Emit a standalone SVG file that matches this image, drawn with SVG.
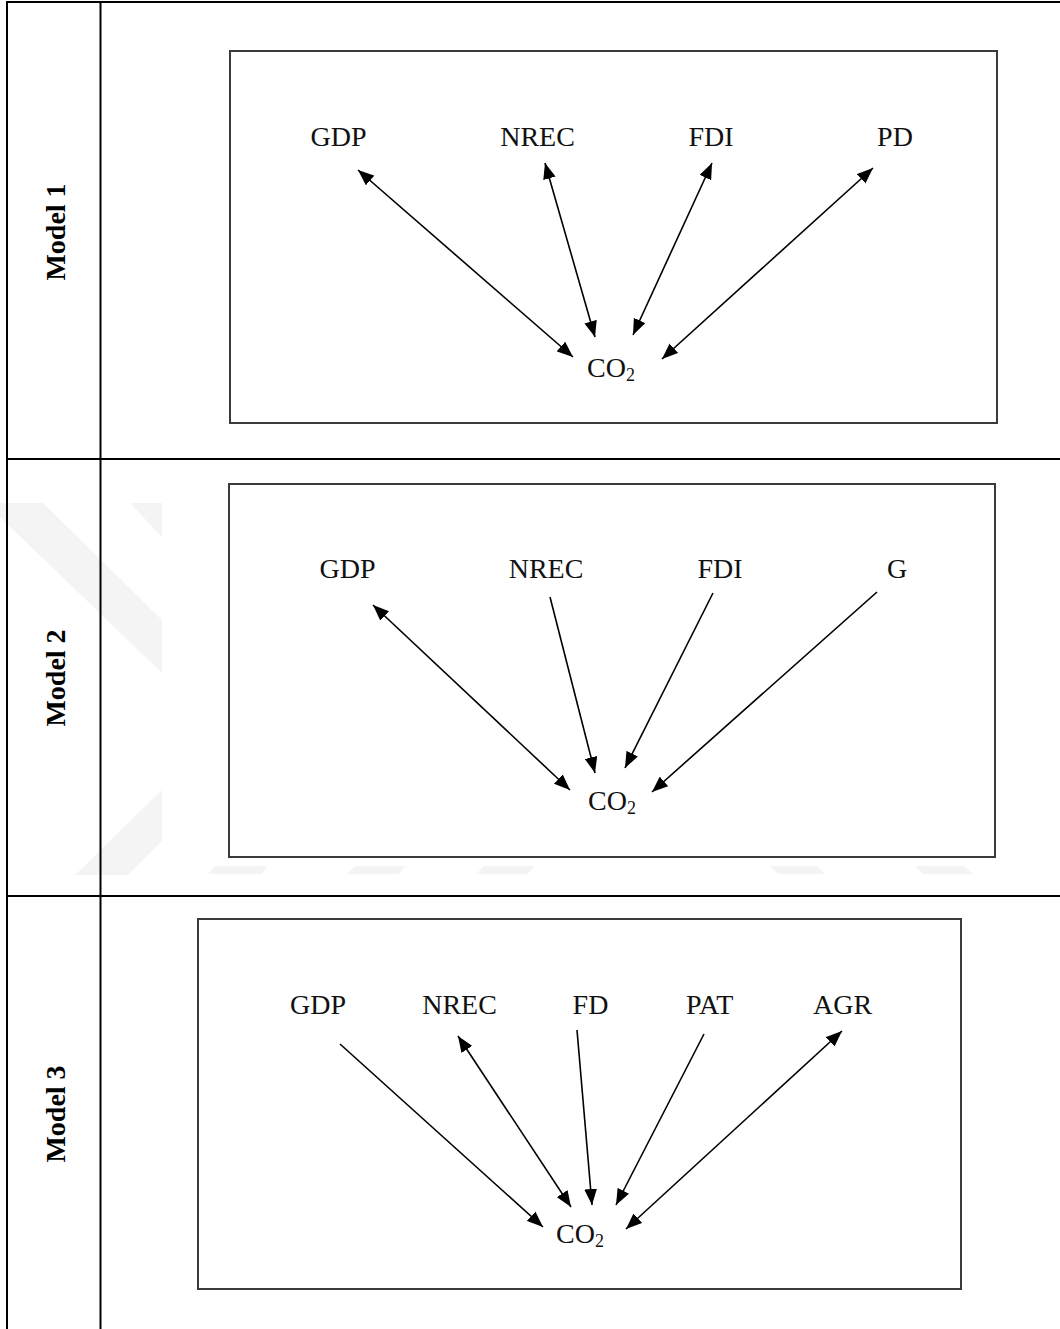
<svg xmlns="http://www.w3.org/2000/svg" width="1060" height="1329" viewBox="0 0 1060 1329">
  <defs>
    <marker id="head" markerUnits="userSpaceOnUse" markerWidth="16" markerHeight="13" viewBox="0 0 15 12" refX="15" refY="6" orient="auto-start-reverse">
      <path d="M0,0 L15,6 L0,12 z" fill="#000"/>
    </marker>
    <clipPath id="wmClip">
      <rect x="0" y="460" width="162" height="436"/>
    </clipPath>
  </defs>
  <style>
    .grid { stroke: #000; stroke-width: 2; fill: none; }
    .frame { stroke: #3a3a3a; stroke-width: 2; fill: none; }
    .lbl { font-family: "Liberation Serif", "Times New Roman", serif; font-size: 28px; fill: #111; text-anchor: middle; }
    .co2 { font-family: "Liberation Serif", "Times New Roman", serif; font-size: 28px; fill: #111; }
    .sub { font-size: 18px; }
    .model { font-family: "Liberation Serif", "Times New Roman", serif; font-size: 28px; font-weight: bold; fill: #000; text-anchor: middle; }
    .wm { fill: #f4f4f4; }
    .edge { stroke: #000; stroke-width: 1.6; fill: none; }
    .one { marker-end: url(#head); }
    .two { marker-start: url(#head); marker-end: url(#head); }
  </style>

  <rect x="0" y="0" width="1060" height="1329" fill="#fff"/>

  <!-- faint background mark -->
  <g id="backdrop-mark">
    <g clip-path="url(#wmClip)">
      <polygon class="wm" points="0,503 43,503 162,620 162,673 0,517"/>
      <polygon class="wm" points="130,503 162,503 162,537"/>
      <polygon class="wm" points="75,875 162,790 162,841 128,875"/>
    </g>
    <polygon class="wm" points="215,866 267,866 262,874 208,874"/>
    <polygon class="wm" points="355,866 405,866 399,874 347,874"/>
    <polygon class="wm" points="484,866 534,866 528,874 476,874"/>
    <polygon class="wm" points="770,866 817,866 825,874 778,874"/>
    <polygon class="wm" points="915,866 963,866 973,874 923,874"/>
  </g>

  <!-- table grid -->
  <g id="table">
    <line class="grid" x1="6" y1="2" x2="1060" y2="2"/>
    <line class="grid" x1="7" y1="1" x2="7" y2="1329"/>
    <line class="grid" x1="100.5" y1="1" x2="100.5" y2="1329"/>
    <line class="grid" x1="6" y1="459" x2="1060" y2="459"/>
    <line class="grid" x1="6" y1="896" x2="1060" y2="896"/>
  </g>

  <!-- row labels -->
  <g id="label-model1"><text class="model" transform="translate(65,232) rotate(-90)">Model 1</text></g>
  <g id="label-model2"><text class="model" transform="translate(65,678) rotate(-90)">Model 2</text></g>
  <g id="label-model3"><text class="model" transform="translate(65,1114) rotate(-90)">Model 3</text></g>

  <!-- model frames -->
  <g id="frame-model1"><rect class="frame" x="230" y="51" width="767" height="372"/></g>
  <g id="frame-model2"><rect class="frame" x="229" y="484" width="766" height="373"/></g>
  <g id="frame-model3"><rect class="frame" x="198" y="919" width="763" height="370"/></g>

  <!-- Model 1 nodes -->
  <g id="m1-gdp"><text class="lbl" x="338.5" y="146">GDP</text></g>
  <g id="m1-nrec"><text class="lbl" x="537.5" y="146">NREC</text></g>
  <g id="m1-fdi"><text class="lbl" x="711" y="146">FDI</text></g>
  <g id="m1-pd"><text class="lbl" x="895" y="146">PD</text></g>
  <g id="m1-co2"><text class="co2" x="587" y="377">CO<tspan class="sub" dy="4">2</tspan></text></g>

  <!-- Model 2 nodes -->
  <g id="m2-gdp"><text class="lbl" x="347.5" y="578">GDP</text></g>
  <g id="m2-nrec"><text class="lbl" x="546" y="578">NREC</text></g>
  <g id="m2-fdi"><text class="lbl" x="720" y="578">FDI</text></g>
  <g id="m2-g"><text class="lbl" x="897" y="578">G</text></g>
  <g id="m2-co2"><text class="co2" x="588" y="810">CO<tspan class="sub" dy="4">2</tspan></text></g>

  <!-- Model 3 nodes -->
  <g id="m3-gdp"><text class="lbl" x="318" y="1014">GDP</text></g>
  <g id="m3-nrec"><text class="lbl" x="459.5" y="1014">NREC</text></g>
  <g id="m3-fd"><text class="lbl" x="590.5" y="1014">FD</text></g>
  <g id="m3-pat"><text class="lbl" x="709.7" y="1014">PAT</text></g>
  <g id="m3-agr"><text class="lbl" x="842.5" y="1014">AGR</text></g>
  <g id="m3-co2"><text class="co2" x="556" y="1243">CO<tspan class="sub" dy="4">2</tspan></text></g>

  <!-- connectors -->
  <g id="connectors">
    <!-- Model 1 -->
    <line class="edge two" x1="358" y1="170" x2="573" y2="357"/>
    <line class="edge two" x1="545" y1="163" x2="595" y2="337"/>
    <line class="edge two" x1="712" y1="163" x2="633" y2="335"/>
    <line class="edge two" x1="873" y1="168" x2="662" y2="359"/>
    <!-- Model 2 -->
    <line class="edge two" x1="373" y1="605" x2="570" y2="790"/>
    <line class="edge one" x1="550" y1="597" x2="595" y2="773"/>
    <line class="edge one" x1="713" y1="593" x2="625" y2="768"/>
    <line class="edge one" x1="877" y1="592" x2="652" y2="792"/>
    <!-- Model 3 -->
    <line class="edge one" x1="340" y1="1044" x2="543" y2="1227"/>
    <line class="edge two" x1="458" y1="1036" x2="571" y2="1207"/>
    <line class="edge one" x1="577" y1="1030" x2="592" y2="1205"/>
    <line class="edge one" x1="704" y1="1034" x2="616" y2="1205"/>
    <line class="edge two" x1="842" y1="1031" x2="626" y2="1229"/>
  </g>
</svg>
